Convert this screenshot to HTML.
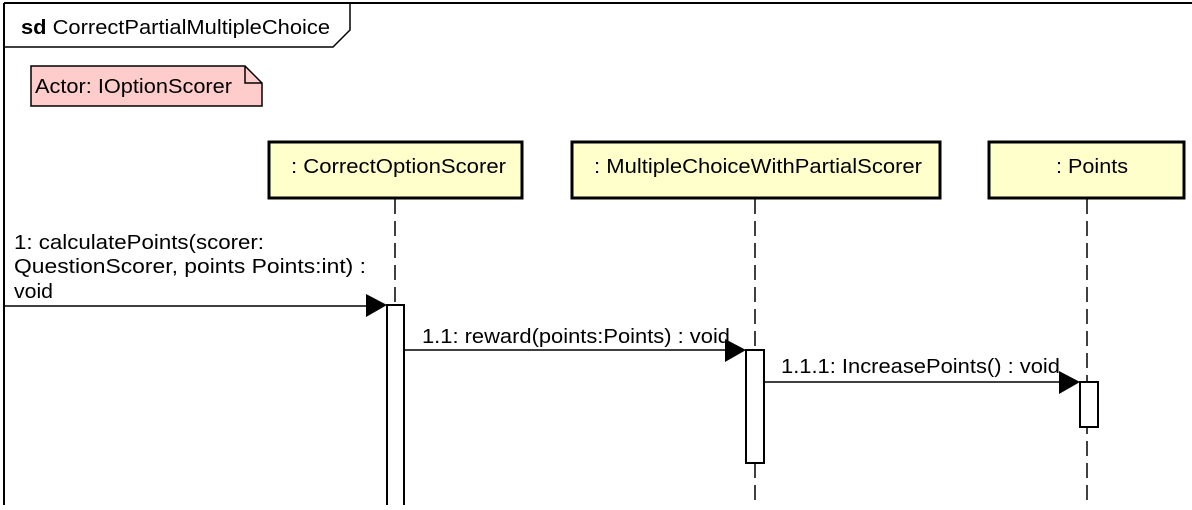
<!DOCTYPE html>
<html><head><meta charset="utf-8"><style>
body{margin:0;background:#fff;}
svg text{font-family:"Liberation Sans",Arial,sans-serif;font-size:20px;fill:#000;}
</style></head><body>
<svg width="1192" height="505" viewBox="0 0 1192 505" xmlns="http://www.w3.org/2000/svg">
<rect width="1192" height="505" fill="#fff"/>
<line x1="4" y1="3" x2="1192" y2="3" stroke="#000" stroke-width="2"/>
<line x1="4" y1="3" x2="4" y2="505" stroke="#000" stroke-width="2"/>
<polyline points="4,47 333,47 350,30 350,3" fill="none" stroke="#000" stroke-width="1.5"/>
<text x="21" y="34" textLength="309" lengthAdjust="spacingAndGlyphs"><tspan font-weight="bold">sd</tspan> CorrectPartialMultipleChoice</text>
<polygon points="31,66 245,66 262,83 262,106 31,106" fill="#ffcccc" stroke="#000" stroke-width="1.5"/>
<polyline points="245,66 245,83 262,83" fill="none" stroke="#000" stroke-width="1.5"/>
<text x="35" y="93" textLength="197" lengthAdjust="spacingAndGlyphs">Actor: IOptionScorer</text>
<g stroke="#000" stroke-width="1.5" stroke-dasharray="15,7">
<line x1="395" y1="199" x2="395" y2="505"/>
<line x1="755" y1="199" x2="755" y2="505"/>
<line x1="1087" y1="199" x2="1087" y2="505"/>
</g>
<g fill="#ffffcc" stroke="#000" stroke-width="3">
<rect x="269" y="142" width="253" height="56"/>
<rect x="572" y="142" width="368" height="56"/>
<rect x="989" y="142" width="195" height="56"/>
</g>
<text x="291" y="173" textLength="215" lengthAdjust="spacingAndGlyphs">: CorrectOptionScorer</text>
<text x="594" y="173" textLength="328" lengthAdjust="spacingAndGlyphs">: MultipleChoiceWithPartialScorer</text>
<text x="1056" y="173" textLength="72" lengthAdjust="spacingAndGlyphs">: Points</text>
<g fill="#fff" stroke="#000" stroke-width="2">
<rect x="387" y="305" width="17" height="210"/>
<rect x="746" y="350" width="18" height="113"/>
<rect x="1080" y="382" width="18" height="45"/>
</g>
<g stroke="#000" stroke-width="1.5">
<line x1="4" y1="306" x2="370" y2="306"/>
<line x1="404" y1="350" x2="730" y2="350"/>
<line x1="764" y1="382" x2="1062" y2="382"/>
</g>
<polygon points="366,294 387,305 366,317" fill="#000"/>
<polygon points="725,339 746,350 725,362" fill="#000"/>
<polygon points="1059,371 1080,382 1059,394" fill="#000"/>
<text x="14" y="249" textLength="250" lengthAdjust="spacingAndGlyphs">1: calculatePoints(scorer:</text>
<text x="14" y="273" textLength="352" lengthAdjust="spacingAndGlyphs">QuestionScorer, points Points:int) :</text>
<text x="14" y="298" textLength="39" lengthAdjust="spacingAndGlyphs">void</text>
<text x="422" y="343" textLength="308" lengthAdjust="spacingAndGlyphs">1.1: reward(points:Points) : void</text>
<text x="781" y="373" textLength="279" lengthAdjust="spacingAndGlyphs">1.1.1: IncreasePoints() : void</text>
</svg>
</body></html>
